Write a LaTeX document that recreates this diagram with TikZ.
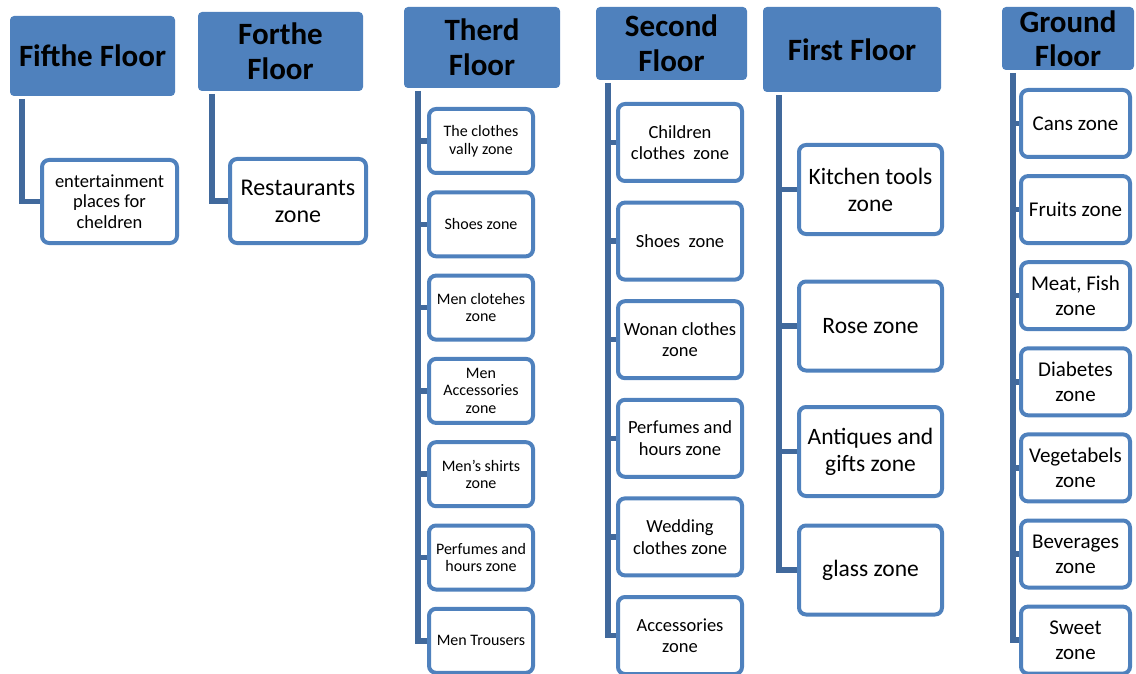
\documentclass[tikz,border=0pt]{standalone}
\usepackage{fontspec}
\setmainfont{Carlito}

\definecolor{hdrblue}{HTML}{4F81BD}
\definecolor{zoneblue}{HTML}{4F81BD}
\definecolor{trunkblue}{HTML}{41699C}

\begin{document}
\begin{tikzpicture}[x = 1pt, y = -1pt,
	hdr/.style = {fill = hdrblue, rounded corners = 4pt, inner sep = 0pt, align = center, font = \bfseries\fontsize{31}{35}\selectfont},
	zone/.style = {draw = zoneblue, line width = 4pt, fill = white, rounded corners = 7pt, inner sep = 0pt, align = center},
	trunk/.style = {draw = trunkblue, line width = 5.5pt, line join = miter}]

	\useasboundingbox (0, 0) rectangle (1136, 674);

	% Floor headers
	
	\node [hdr, minimum width = 165pt, minimum height = 80pt] (fifth) at (92.5, 56) {Fifthe Floor};
	\node [hdr, minimum width = 165pt, minimum height = 79pt] (forth) at (280.5, 51.5) {Forthe\\Floor};
	\node [hdr, minimum width = 156pt, minimum height = 81pt] (third) at (482, 47.5) {Therd\\Floor};
	\node [hdr, minimum width = 151pt, minimum height = 73pt] (second) at (671.5, 43.5) {Second\\Floor};
	\node [hdr, minimum width = 178pt, minimum height = 85pt] (first) at (852, 49.5) {First Floor};
	\node [hdr, minimum width = 132pt, minimum height = 63pt, font = \bfseries\fontsize{31}{34}\selectfont] (ground) at (1068, 38.5) {Ground\\Floor};

	% Trunk tops
	
	\coordinate (fifthtop) at (22, 99);
	\coordinate (forthtop) at (212, 94);
	\coordinate (thirdtop) at (418, 91);
	\coordinate (secondtop) at (608, 83);
	\coordinate (firsttop) at (779, 95);
	\coordinate (groundtop) at (1013, 73);

	% Zones
	
	\node [zone, minimum width = 135pt, minimum height = 83pt, font = \fontsize{18.5}{20.5}\selectfont] (fifth1) at (109.5, 201.5) {entertainment\\places for\\cheldren};
	\node [zone, minimum width = 136pt, minimum height = 84pt, font = \fontsize{24}{27}\selectfont] (forth1) at (298, 201) {Restaurants\\zone};
	
	\foreach \txt [count = \i] in {The clothes\\vally zone, Shoes zone, Men clotehes\\zone, Men\\Accessories\\zone, Men's shirts\\zone, Perfumes and\\hours zone, Men Trousers}
		\node [zone, minimum width = 104pt, minimum height = 64pt, font = \fontsize{16}{17.5}\selectfont] (third\i) at (481, {141 + 83.3 * (\i - 1)}) {\txt};
	
	\foreach \txt [count = \i] in {Children\\clothes~~zone, Shoes~~zone, Wonan clothes\\zone, Perfumes and\\hours zone, Wedding\\clothes zone, Accessories\\zone}
		\node [zone, minimum width = 124pt, minimum height = 77pt, font = \fontsize{18.5}{21.5}\selectfont] (second\i) at (680, {142.5 + 98.6 * (\i - 1)}) {\txt};
	
	\foreach \txt/\y [count = \i] in {Kitchen tools\\zone/189.5, Rose zone/326, Antiques and\\gifts zone/451.5, glass zone/570}
		\node [zone, minimum width = 143pt, minimum height = 89pt, font = \fontsize{23.5}{27}\selectfont] (first\i) at (870.5, \y) {\txt};
	
	\foreach \txt [count = \i] in {Cans zone, Fruits zone, {Meat, Fish\\zone}, Diabetes\\zone, Vegetabels\\zone, Beverages\\zone, Sweet\\zone}
		\node [zone, minimum width = 109pt, minimum height = 67pt, font = \fontsize{21}{25}\selectfont] (ground\i) at (1075.5, {123.5 + 86.1 * (\i - 1)}) {\txt};

	% Trunks
	
	\draw [trunk] (fifthtop) |- (fifth1.west);
	\draw [trunk] (forthtop) |- (forth1.west);
	
	\draw [trunk] (thirdtop) |- (third7.west);
	\foreach \i in {1, ..., 6}
		\draw [trunk] (thirdtop |- third\i.west) -- (third\i.west);
	
	\draw [trunk] (secondtop) |- (second6.west);
	\foreach \i in {1, ..., 5}
		\draw [trunk] (secondtop |- second\i.west) -- (second\i.west);
	
	\draw [trunk] (firsttop) |- (first4.west);
	\foreach \i in {1, ..., 3}
		\draw [trunk] (firsttop |- first\i.west) -- (first\i.west);
	
	\draw [trunk] (groundtop) |- (ground7.west);
	\foreach \i in {1, ..., 6}
		\draw [trunk] (groundtop |- ground\i.west) -- (ground\i.west);

\end{tikzpicture}
\end{document}
